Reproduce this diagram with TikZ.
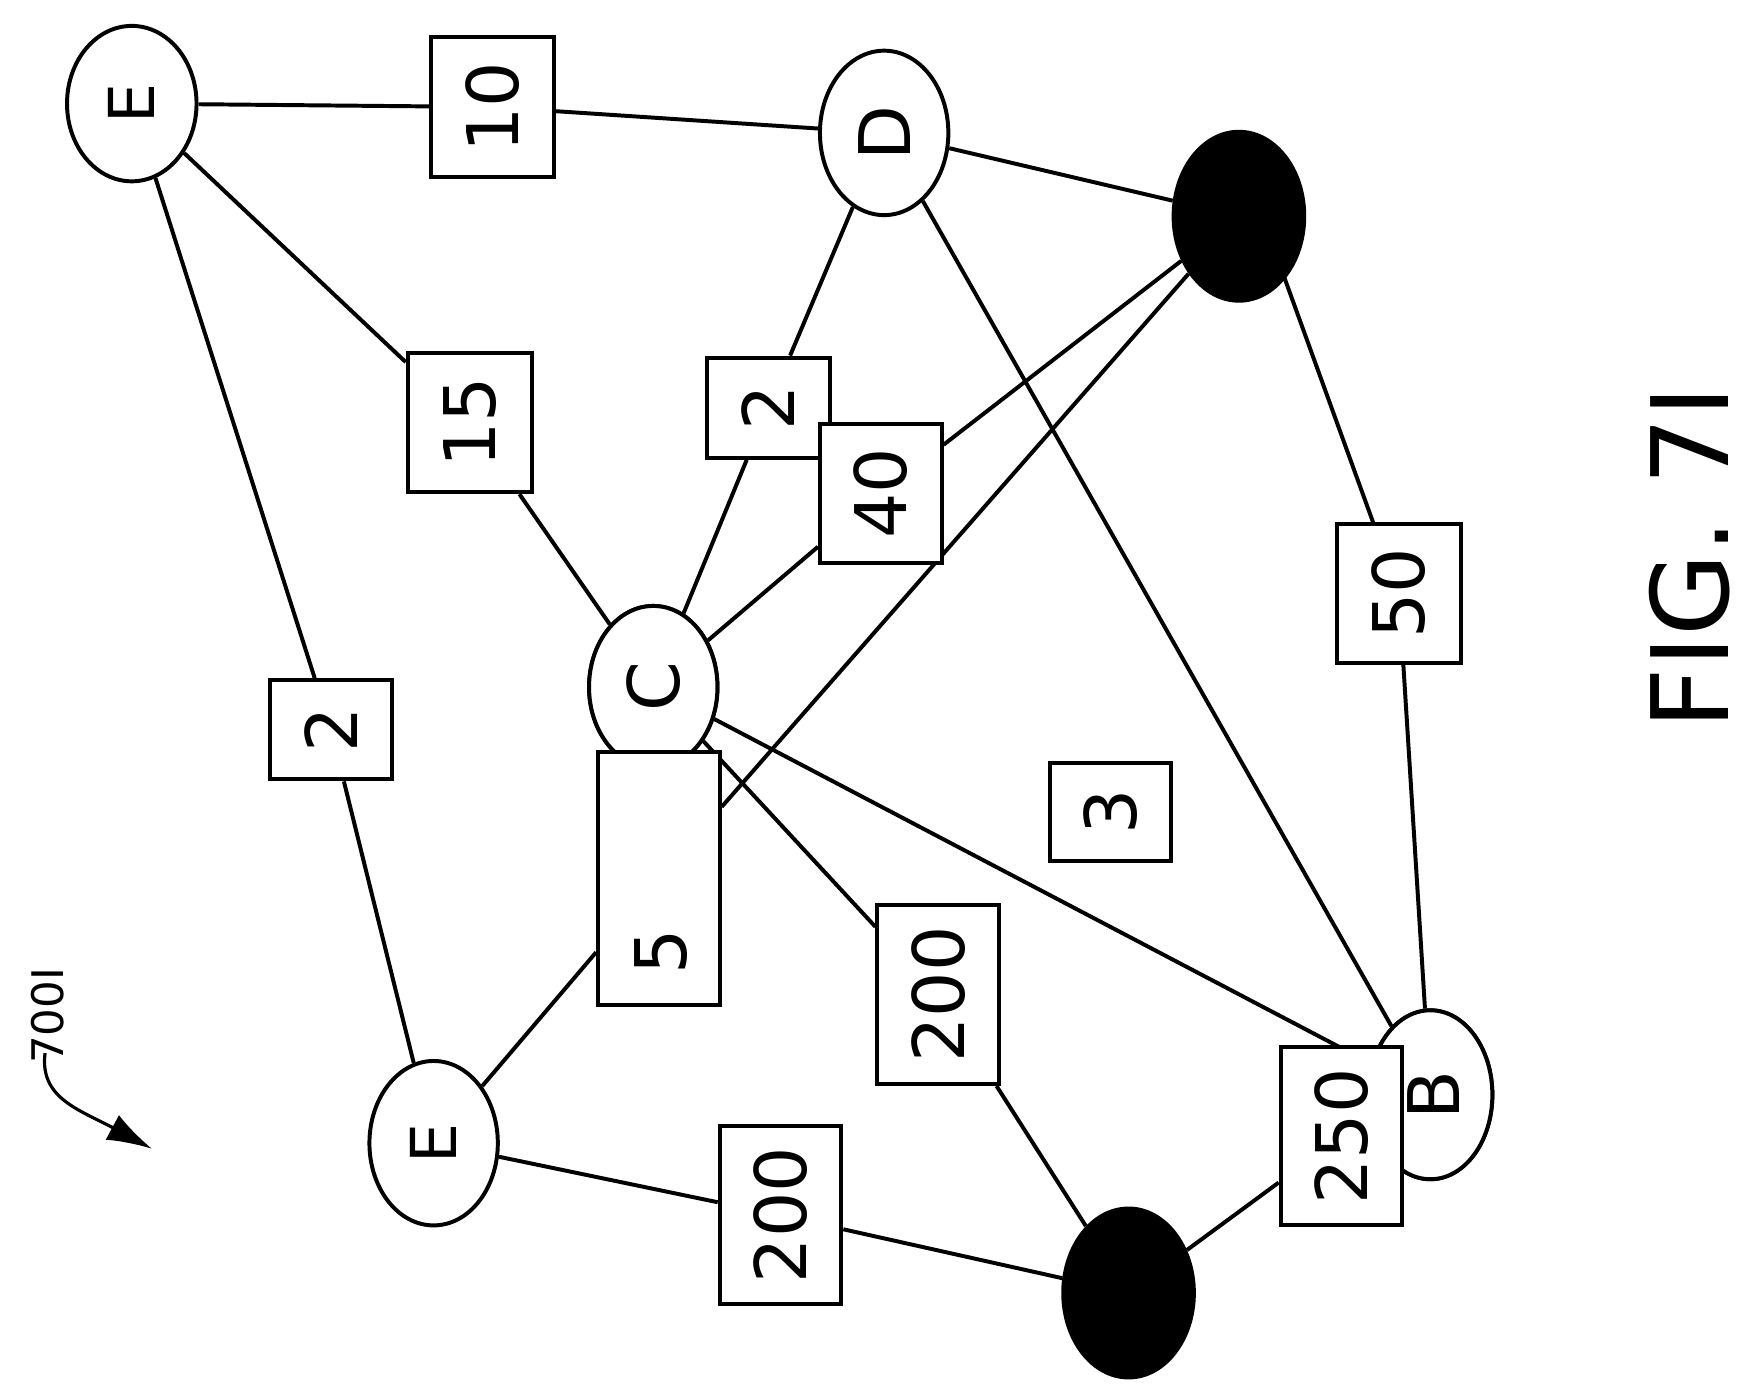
\documentclass[tikz,border=0pt]{standalone}
\usepackage{fontspec}
\setmainfont{DejaVu Sans}
\usetikzlibrary{shapes.geometric,arrows.meta}
\begin{document}
\begin{tikzpicture}[x=1cm,y=-1cm,
 nd/.style={draw,ellipse,line width=1pt,fill=white,inner sep=0pt},
 bk/.style={nd,fill=black},
 lb/.style={draw,line width=1pt,fill=white,inner sep=0pt,font=\fontsize{18}{20}\selectfont},
 ed/.style={line width=1pt}]
\useasboundingbox (0,0) rectangle (15.6,12.36);
\newcommand\rt[1]{\rotatebox{90}{#1}}
% label boxes (coordinates)
\node[lb,minimum width=1.09cm,minimum height=1.24cm] (l10) at (4.37,0.95) {\rt{10}};
\node[lb,minimum width=1.10cm,minimum height=1.24cm] (l15) at (4.17,3.75) {\rt{15}};
\node[lb,minimum width=1.09cm,minimum height=0.89cm] (l2a) at (6.82,3.62) {\rt{2}};
\node[lb,minimum width=1.08cm,minimum height=1.23cm] (l40) at (7.82,4.38) {\rt{40}};
\node[lb,minimum width=1.08cm,minimum height=0.88cm] (l2b) at (2.94,6.48) {\rt{2}};
\node[lb,minimum width=1.08cm,minimum height=2.25cm] (l5) at (5.85,7.80) {};
\node[lb,minimum width=1.08cm,minimum height=0.87cm] (l3) at (9.86,7.21) {\rt{3}};
\node[lb,minimum width=1.10cm,minimum height=1.23cm] (l50) at (12.42,5.27) {\rt{50}};
\node[lb,minimum width=1.08cm,minimum height=1.59cm] (l200a) at (8.33,8.83) {\rt{200}};
\node[lb,minimum width=1.08cm,minimum height=1.58cm] (l200b) at (6.93,10.79) {\rt{200}};
\node[lb,minimum width=1.08cm,minimum height=1.58cm] (l250) at (11.91,10.09) {\rt{250}};
% nodes
\node[nd,minimum width=1.15cm,minimum height=1.38cm,font=\fontsize{16}{18}\selectfont] (E1) at (1.17,0.92) {\rt{E}};
\node[nd,minimum width=1.14cm,minimum height=1.46cm,font=\fontsize{18}{20}\selectfont] (D) at (7.85,1.18) {\rt{D}};
\node[bk,minimum width=1.16cm,minimum height=1.50cm] (K1) at (11.00,1.92) {};
\node[nd,minimum width=1.14cm,minimum height=1.44cm,font=\fontsize{18}{20}\selectfont] (C) at (5.80,6.10) {\rt{C}};
\node[nd,minimum width=1.14cm,minimum height=1.46cm,font=\fontsize{16}{18}\selectfont] (E2) at (3.85,10.15) {\rt{E}};
\node[nd,minimum width=1.10cm,minimum height=1.50cm,font=\fontsize{18}{20}\selectfont] (B) at (12.70,9.72) {\rt{B}};
\node[bk,minimum width=1.16cm,minimum height=1.50cm] (K2) at (10.02,11.48) {};
\coordinate (k1b) at (11.38,2.40);
% edges
\draw[ed] (E1)--(l10)--(D);
\draw[ed] (E1)--(l15)--(C);
\draw[ed] (E1)--(l2b)--(E2);
\draw[ed] (D)--(l2a)--(C);
\draw[ed] (D)--(K1);
\draw[ed] (D)--(B);
\draw[ed] (K1)--(l40)--(C);
\draw[ed] (K1)--(l5)--(E2);
\draw[ed] (C)--(B);
\draw[ed] (C)--(l200a)--(K2);
\draw[ed] (k1b)--(l50)--(B);
\draw[ed] (E2)--(l200b)--(K2);
\draw[ed] (K2)--(l250);
% redraw on top
\node[lb,minimum width=1.09cm,minimum height=1.24cm] at (4.37,0.95) {\rt{10}};
\node[lb,minimum width=1.10cm,minimum height=1.24cm] at (4.17,3.75) {\rt{15}};
\node[lb,minimum width=1.09cm,minimum height=0.89cm] at (6.82,3.62) {\rt{2}};
\node[lb,minimum width=1.08cm,minimum height=1.23cm] at (7.82,4.38) {\rt{40}};
\node[lb,minimum width=1.08cm,minimum height=0.88cm] at (2.94,6.48) {\rt{2}};
\node[nd,minimum width=1.14cm,minimum height=1.44cm,font=\fontsize{18}{20}\selectfont] at (5.80,6.10) {\rt{C}};
\node[lb,minimum width=1.08cm,minimum height=2.25cm] at (5.85,7.80) {};
\node[font=\fontsize{18}{20}\selectfont] (t5) at (5.87,8.45) {\rt{5}};
\node[lb,minimum width=1.08cm,minimum height=0.87cm] at (9.86,7.21) {\rt{3}};
\node[lb,minimum width=1.10cm,minimum height=1.23cm] at (12.42,5.27) {\rt{50}};
\node[lb,minimum width=1.08cm,minimum height=1.59cm] at (8.33,8.83) {\rt{200}};
\node[lb,minimum width=1.08cm,minimum height=1.58cm] at (6.93,10.79) {\rt{200}};
\node[nd,minimum width=1.10cm,minimum height=1.50cm] at (12.70,9.72) {};
\node[lb,minimum width=1.08cm,minimum height=1.58cm] at (11.91,10.09) {\rt{250}};
\node[font=\fontsize{18}{20}\selectfont] at (12.73,9.72) {\rt{B}};
% reference label
\node[font=\fontsize{11}{13}\selectfont] (ref) at (0.42,9.02) {\rt{700I}};
\coordinate (rt) at (1.35,10.20);
\draw[line width=0.8pt,-{Latex[length=4mm,width=2.5mm]}] (0.40,9.35) .. controls (0.35,9.75) and (0.70,9.85) .. (rt);
\node[font=\fontsize{27}{30}\selectfont,inner sep=0pt] (fig) at (15.0,4.95) {\rt{FIG. 7I}};
\end{tikzpicture}
\end{document}
